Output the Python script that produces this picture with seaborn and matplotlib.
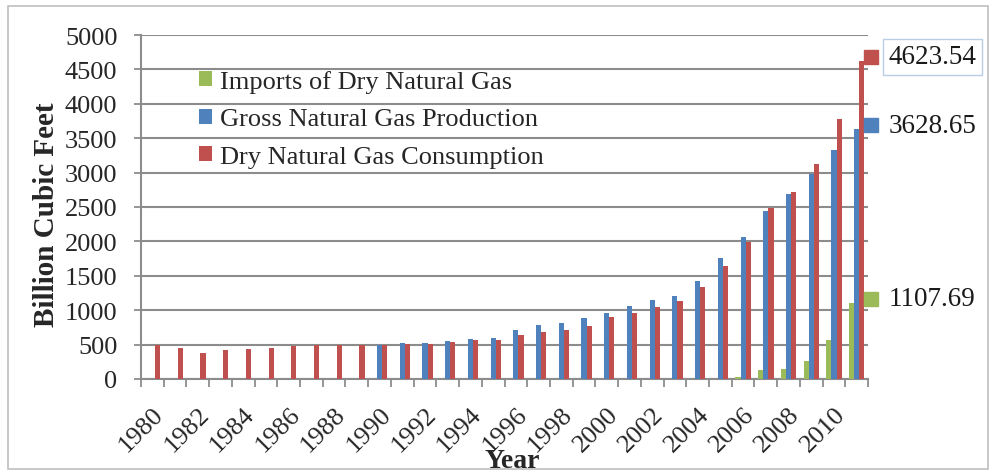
import numpy as np
import pandas as pd
import matplotlib
matplotlib.use("Agg")
import matplotlib.pyplot as plt
import matplotlib.transforms as mtrans
import seaborn as sns
from matplotlib.patches import Patch, Rectangle

# Data (billion cubic feet)
years = list(range(1980, 2012))
consumption = [500, 446, 377, 426, 431, 451, 480, 490, 495, 495,
               490, 510, 515, 534, 564, 573, 639, 689, 714, 772,
               898, 961, 1053, 1136, 1340, 1646, 1990, 2485, 2723, 3126,
               3772, 4623.54]
production_years = list(range(1990, 2012))
production = [500, 524, 529, 554, 583, 595, 705, 791, 815, 883,
              956, 1063, 1150, 1204, 1427, 1757, 2058, 2442, 2684, 2976,
              3330, 3628.65]
import_years = list(range(2006, 2012))
imports = [24, 131, 146, 257, 568, 1107.69]

series_names = ["Imports of Dry Natural Gas",
                "Gross Natural Gas Production",
                "Dry Natural Gas Consumption"]
colors = ["#9BBB59", "#4F81BD", "#C0504D"]

df = pd.concat([
    pd.DataFrame({"Year": import_years, "Value": imports, "Series": series_names[0]}),
    pd.DataFrame({"Year": production_years, "Value": production, "Series": series_names[1]}),
    pd.DataFrame({"Year": years, "Value": consumption, "Series": series_names[2]}),
])
df["Year"] = pd.Categorical(df["Year"].astype(str), categories=[str(y) for y in years])

sns.set_theme(style="white")
plt.rcParams["font.family"] = ["Liberation Serif", "DejaVu Serif"]

fig = plt.figure(figsize=(9.95, 4.77), dpi=100)
ax = fig.add_axes([0.1417, 0.2034, 0.7307, 0.7211])

sns.barplot(data=df, x="Year", y="Value", hue="Series", hue_order=series_names,
            palette=dict(zip(series_names, colors)), width=0.68, linewidth=0,
            saturation=1, legend=False, ax=ax, zorder=3)

grid_c = "#8C8C8C"
ax.set_ylim(0, 5000)
ax.set_yticks(np.arange(0, 5001, 500))
ax.yaxis.grid(True, color=grid_c, linewidth=1.5, zorder=0)
ax.set_axisbelow(True)
ax.set_xlim(-0.5, len(years) - 0.5)
ax.set_xticks(range(0, len(years), 2))
ax.set_xticklabels([str(y) for y in years[::2]], rotation=45, ha="right",
                   rotation_mode="anchor", fontsize=19)
shift = mtrans.ScaledTranslation(6 / 100, 0, fig.dpi_scale_trans)
for lbl in ax.get_xticklabels():
    lbl.set_transform(lbl.get_transform() + shift)
ax.set_xticks(np.arange(-0.5, len(years), 1), minor=True)
ax.tick_params(axis="x", which="major", length=0, pad=17)
ax.tick_params(axis="x", which="minor", length=6, width=1.3, color=grid_c, bottom=True)
ax.tick_params(axis="y", length=5, width=1.3, color=grid_c, left=True, pad=12, labelsize=19)

for s in ["top", "right"]:
    ax.spines[s].set_visible(False)
for s in ["left", "bottom"]:
    ax.spines[s].set_color(grid_c)
    ax.spines[s].set_linewidth(1.5)

ax.set_ylabel("Billion Cubic Feet", fontsize=21, fontweight="bold")
ax.yaxis.set_label_coords(-0.112, 0.48)
ax.set_xlabel("Year", fontsize=20, fontweight="bold")
ax.xaxis.set_label_coords(0.51, -0.20)

handles = [Patch(facecolor=c, edgecolor="none") for c in colors]
ax.legend(handles, series_names, loc="upper left", bbox_to_anchor=(0.065, 0.93),
          frameon=False, fontsize=19, handlelength=0.5, handleheight=0.5,
          handletextpad=0.3, labelspacing=0.6, borderaxespad=0)

# end-of-series value labels
last_vals = [imports[-1], production[-1], consumption[-1]]
x_end = len(years) - 1 + 0.62
for c, v in zip(colors, last_vals):
    ax.plot([x_end], [v + 60], marker="s", markersize=10, color=c,
            clip_on=False, zorder=5)
    box = None
    if v == consumption[-1]:
        box = dict(boxstyle="square,pad=0.2", facecolor="white", edgecolor="#B9CDE5")
    ax.annotate(f"{v:.2f}", xy=(x_end, v + 60), xytext=(13, 0),
                textcoords="offset points", va="center", ha="left",
                fontsize=19.5, color="#1a1a1a", bbox=box, annotation_clip=False)

fig.patches.append(Rectangle((0.008, 0.015), 0.985, 0.97, transform=fig.transFigure,
                             fill=False, edgecolor="#BFBFBF", linewidth=1.2))

fig.savefig("out.png", dpi=100)
